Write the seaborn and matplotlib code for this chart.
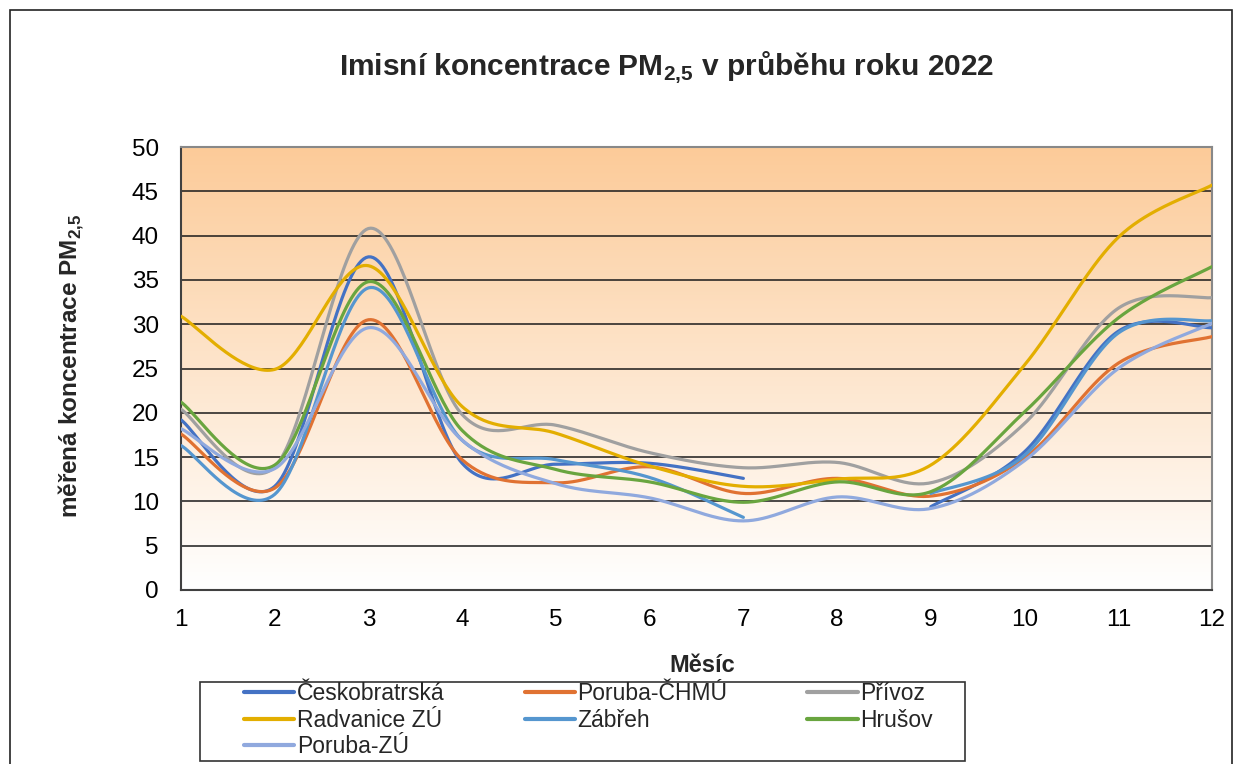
import numpy as np
import pandas as pd
import seaborn as sns
import matplotlib.pyplot as plt
from matplotlib.patches import Rectangle

months = list(range(1, 13))

ceskobratrska = [19.2, 11.7, 37.6, 14.3, 14.2, 14.3, 12.6, np.nan, 9.4, 15.6, 29.2, 29.6]
poruba_chmu = [17.6, 11.5, 30.5, 14.7, 12.1, 13.9, 10.9, 12.6, 10.6, 14.9, 25.6, 28.6]
privoz = [20.4, 13.9, 40.8, 19.8, 18.6, 15.5, 13.8, 14.4, 12.1, 18.8, 31.8, 33.0]
radvanice = [30.9, 24.9, 36.6, 20.7, 17.7, 14.0, 11.7, 12.5, 14.1, 25.4, 39.8, 45.7]
zabreh = [16.3, 10.8, 34.1, 16.9, 14.7, 12.7, 8.2, np.nan, 10.9, 15.2, 29.0, 30.4]
hrusov = [21.2, 14.1, 34.8, 18.0, 13.6, 12.2, 9.9, 12.2, 11.1, 20.1, 30.7, 36.5]
poruba_zu = [18.2, 13.7, 29.6, 16.9, 12.0, 10.4, 7.8, 10.5, 9.2, 14.6, 25.0, 30.1]

stations = {
    "Českobratrská": ceskobratrska,
    "Poruba-ČHMÚ": poruba_chmu,
    "Přívoz": privoz,
    "Radvanice ZÚ": radvanice,
    "Zábřeh": zabreh,
    "Hrušov": hrusov,
    "Poruba-ZÚ": poruba_zu,
}
palette = {
    "Českobratrská": "#4472C4",
    "Poruba-ČHMÚ": "#E07232",
    "Přívoz": "#A0A0A0",
    "Radvanice ZÚ": "#E3AE00",
    "Zábřeh": "#5596CF",
    "Hrušov": "#69A53F",
    "Poruba-ZÚ": "#90A9DE",
}


def smooth_segment(xs, ys, n=40):
    # Excel-like smoothed line (Catmull-Rom through the points)
    px = np.concatenate([[xs[0]], xs, [xs[-1]]])
    py = np.concatenate([[ys[0]], ys, [ys[-1]]])
    out_x, out_y = [], []
    t = np.linspace(0, 1, n)
    for i in range(1, len(px) - 2):
        p0x, p1x, p2x, p3x = px[i - 1], px[i], px[i + 1], px[i + 2]
        p0y, p1y, p2y, p3y = py[i - 1], py[i], py[i + 1], py[i + 2]
        b1x, b1y = p1x + (p2x - p0x) / 6, p1y + (p2y - p0y) / 6
        b2x, b2y = p2x - (p3x - p1x) / 6, p2y - (p3y - p1y) / 6
        bx = (1 - t) ** 3 * p1x + 3 * (1 - t) ** 2 * t * b1x + 3 * (1 - t) * t ** 2 * b2x + t ** 3 * p2x
        by = (1 - t) ** 3 * p1y + 3 * (1 - t) ** 2 * t * b1y + 3 * (1 - t) * t ** 2 * b2y + t ** 3 * p2y
        out_x.extend(bx)
        out_y.extend(by)
    return out_x, out_y


rows = []
for name, vals in stations.items():
    vals = np.array(vals, dtype=float)
    x = np.array(months, dtype=float)
    ok = ~np.isnan(vals)
    seg_id = 0
    start = None
    for i in range(len(vals) + 1):
        if i < len(vals) and ok[i]:
            if start is None:
                start = i
        else:
            if start is not None:
                sx, sy = smooth_segment(x[start:i], vals[start:i])
                for a, b in zip(sx, sy):
                    rows.append((name, f"{name}_{seg_id}", a, b))
                seg_id += 1
                start = None
df = pd.DataFrame(rows, columns=["Stanice", "seg", "Měsíc", "Hodnota"])

sns.set_theme(style="white")
plt.rcParams['font.family'] = ['Liberation Sans', 'DejaVu Sans']
plt.rcParams['mathtext.fontset'] = 'custom'
plt.rcParams['mathtext.rm'] = 'Liberation Sans'
plt.rcParams['mathtext.bf'] = 'Liberation Sans:bold'

fig = plt.figure(figsize=(12.36, 7.64), dpi=100)
ax = fig.add_axes([181 / 1236, 1 - 590 / 764, (1212 - 181) / 1236, (590 - 147) / 764])

# gradient background
grad = np.linspace(0, 1, 256).reshape(-1, 1)
top = np.array([252, 203, 153]) / 255
bottom = np.array([255, 255, 255]) / 255
img = bottom[None, None, :] * (1 - grad[:, :, None]) + top[None, None, :] * grad[:, :, None]
ax.imshow(img, extent=[1, 12, 0, 50], origin='lower', aspect='auto', zorder=0)

for v in range(5, 50, 5):
    ax.axhline(v, color='#1a1a1a', lw=1.1, zorder=1)

sns.lineplot(data=df, x="Měsíc", y="Hodnota", hue="Stanice", units="seg",
             estimator=None, sort=False, palette=palette, linewidth=2.3,
             hue_order=list(stations.keys()), ax=ax, zorder=3)

ax.set_xlim(1, 12)
ax.set_ylim(0, 50)
ax.set_xticks(months)
ax.set_yticks(range(0, 51, 5))
ax.tick_params(axis='both', labelsize=17.5, colors='#404040', labelcolor='black',
               direction='out', length=8, width=1.3)
ax.tick_params(axis='y', pad=8)
ax.tick_params(axis='x', pad=6)
ax.set_xlabel("")
ax.set_ylabel("")
for side in ['left', 'bottom']:
    ax.spines[side].set_color('#404040')
    ax.spines[side].set_linewidth(1.5)
for side in ['top', 'right']:
    ax.spines[side].set_color('#888888')
    ax.spines[side].set_linewidth(1.5)

handles, labels = ax.get_legend_handles_labels()
ax.get_legend().remove()
lookup = dict(zip(labels, handles))
# legend filled column by column, so reorder to read row by row
leg_order = ["Českobratrská", "Radvanice ZÚ", "Poruba-ZÚ",
             "Poruba-ČHMÚ", "Zábřeh", "Přívoz", "Hrušov"]

fig.text(667 / 1236, 1 - 67 / 764, r"Imisní koncentrace PM$_\mathbf{2{,}5}$ v průběhu roku 2022",
         ha='center', va='center', fontsize=21.5, fontweight='bold')
fig.text(71 / 1236, 1 - 366 / 764, r"měřená koncentrace PM$_\mathbf{2{,}5}$",
         ha='center', va='center', rotation=90, fontsize=17.5, fontweight='bold')
fig.text(702 / 1236, 1 - 665 / 764, "Měsíc", ha='center', va='center',
         fontsize=17, fontweight='bold')

leg = fig.legend([lookup[k] for k in leg_order], leg_order, ncol=3, loc='upper left',
                 bbox_to_anchor=(244 / 1236, 1 - 682 / 764),
                 frameon=False, prop={'size': 16.5},
                 handlelength=2.2, handletextpad=0.1, labelspacing=0.16,
                 columnspacing=3.5, borderpad=0, borderaxespad=0)
for h in leg.get_lines():
    h.set_linewidth(3)

fig.patches.append(Rectangle((200 / 1236, 1 - 761 / 764), 765 / 1236, 79 / 764,
                             transform=fig.transFigure, fill=False,
                             edgecolor='#333333', lw=1.2))
fig.patches.append(Rectangle((10 / 1236, -0.05), 1222 / 1236, 1.05 - 10 / 764,
                             transform=fig.transFigure, fill=False,
                             edgecolor='#222222', lw=1.2))

fig.savefig("out.png", dpi=100)
